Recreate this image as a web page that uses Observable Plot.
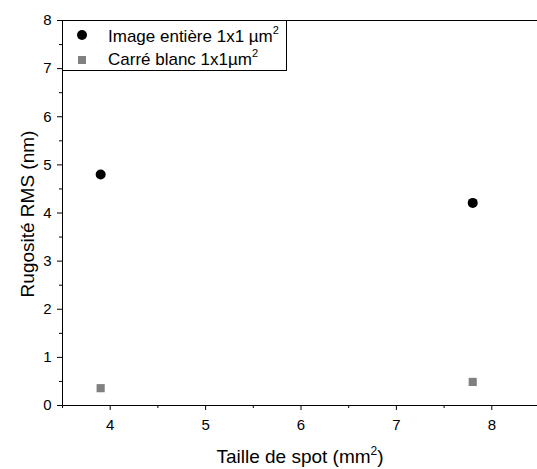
<!DOCTYPE html>
<html><head><meta charset="utf-8">
<script src="https://cdn.jsdelivr.net/npm/d3@7"></script>
<script src="https://cdn.jsdelivr.net/npm/@observablehq/plot@0.6"></script>
<style>body{margin:0;background:#fff;font-family:"Liberation Sans",Arial,sans-serif;}</style>
</head><body><div id="chart"></div>
<script>
const spotSizes = [3.9, 7.8];
const imageEntiere = [4.8, 4.21];
const carreBlanc = [0.36, 0.49];
const seriesNames = ["Image entière 1x1 µm", "Carré blanc 1x1µm"];
const xTicks = [4, 5, 6, 7, 8];
const yTicks = [0, 1, 2, 3, 4, 5, 6, 7, 8];

const dataA = spotSizes.map((x, i) => ({x, y: imageEntiere[i]}));
const dataB = spotSizes.map((x, i) => ({x, y: carreBlanc[i]}));
const xMinor = d3.range(3.5, 8.51, 0.5).filter(v => !Number.isInteger(v));
const yMinor = d3.range(0.5, 8, 1);

const chart = Plot.plot({
  width: 537, height: 469,
  marginLeft: 62, marginRight: -2, marginTop: 20, marginBottom: 64,
  style: {fontFamily: "Liberation Sans, Arial, sans-serif", fontSize: "15px", background: "#fff", color: "#000"},
  x: {domain: [3.5, 8.5]},
  y: {domain: [0, 8]},
  marks: [
    Plot.frame({stroke: "#000", strokeWidth: 1}),
    Plot.axisX({ticks: xTicks, tickFormat: d => String(d), tickSize: 5, tickPadding: 9, label: null, fontSize: 15}),
    Plot.axisX({ticks: xMinor, tickSize: 3, text: null, label: null}),
    Plot.axisY({ticks: yTicks, tickFormat: d => String(d), tickSize: 5, tickPadding: 6, label: null, fontSize: 15}),
    Plot.axisY({ticks: yMinor, tickSize: 3, text: null, label: null}),
    Plot.dot(dataA, {x: "x", y: "y", r: 5, fill: "#000", stroke: "none"}),
    Plot.dot(dataB, {x: "x", y: "y", r: 4.6, symbol: "square", fill: "#808080", stroke: "none"})
  ]
});
document.getElementById("chart").appendChild(chart);

const svg = d3.select(chart);
// axis titles
const xt = svg.append("text").attr("x", 300).attr("y", 463).attr("text-anchor", "middle")
  .attr("font-size", 19).attr("fill", "#000");
xt.append("tspan").text("Taille de spot (mm");
xt.append("tspan").text("2").attr("font-size", 12).attr("dy", -8);
xt.append("tspan").text(")").attr("dy", 8);

svg.append("text").attr("transform", "translate(34,214) rotate(-90)").attr("text-anchor", "middle")
  .attr("font-size", 19).attr("fill", "#000").text("Rugosité RMS (nm)");

// legend
const lg = svg.append("g");
lg.append("rect").attr("x", 62.5).attr("y", 20.5).attr("width", 224).attr("height", 50)
  .attr("fill", "#fff").attr("stroke", "#000").attr("stroke-width", 1);
lg.append("circle").attr("cx", 82).attr("cy", 35).attr("r", 5).attr("fill", "#000");
lg.append("rect").attr("x", 78).attr("y", 56).attr("width", 8).attr("height", 8).attr("fill", "#808080");
seriesNames.forEach((name, i) => {
  const t = lg.append("text").attr("x", 108).attr("y", 42 + i * 23).attr("text-anchor", "start")
    .attr("font-size", 17).attr("fill", "#000");
  t.append("tspan").text(name);
  t.append("tspan").text("2").attr("font-size", 11).attr("dy", -8);
});
</script></body></html>
